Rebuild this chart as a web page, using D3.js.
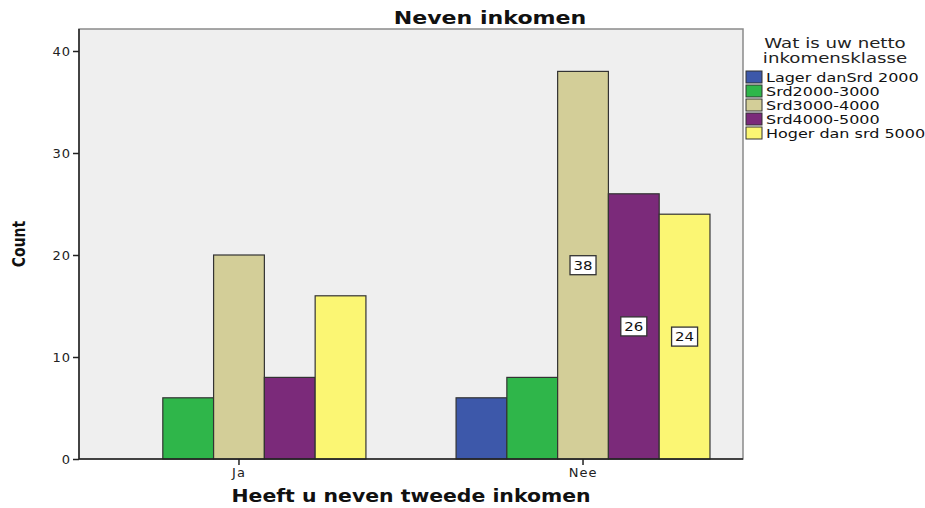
<!DOCTYPE html>
<html>
<head>
<meta charset="utf-8">
<script src="https://cdn.jsdelivr.net/npm/d3@7"></script>
<style>
  body { margin: 0; background: #fff; }
  text { font-family: "DejaVu Sans", Arial, sans-serif; }
</style>
</head>
<body>
<div id="screen"></div>
<script>
var width = 925;
var height = 508;

var categories = ['Ja', 'Nee'];
var seriesNames = ['Lager danSrd 2000', 'Srd2000-3000', 'Srd3000-4000', 'Srd4000-5000', 'Hoger dan srd 5000'];
var seriesColors = ['#3D58AA', '#2FB64A', '#D3CE98', '#7B2A7A', '#FBF673'];
var valuesJa = [0, 6, 20, 8, 16];
var valuesNee = [6, 8, 38, 26, 24];
var yTicks = [0, 10, 20, 30, 40];
// which bars get a value label (SPSS only labelled a few)
var labelled = [[false, false, false, false, false], [false, false, true, true, true]];

var plot = {left: 79, top: 29, right: 743, bottom: 459};

var svg = d3.select("#screen").append("svg")
  .attr("width", width).attr("height", height);

// the original picture is stretched sideways, so text gets a x-scale
var stretchText = function(g, x, y, sx, txt){
  return g.append("text")
    .attr("transform", "translate(" + x + "," + y + ") scale(" + sx + ",1)")
    .text(txt);
};

var rows = [];
[valuesJa, valuesNee].forEach(function(vals, ci){
  vals.forEach(function(v, si){
    rows.push({cat: categories[ci], series: si, value: v, label: labelled[ci][si]});
  });
});

var x0 = d3.scaleBand().domain(categories)
  .range([plot.left, plot.right])
  .paddingInner(0.262).paddingOuter(0.096);
var x1 = d3.scaleBand().domain(d3.range(seriesNames.length))
  .range([0, x0.bandwidth()]);
var y = d3.scaleLinear().domain([0, 40]).range([plot.bottom, 51]);

// plot background
svg.append("rect")
  .attr("x", plot.left).attr("y", plot.top)
  .attr("width", plot.right - plot.left).attr("height", plot.bottom - plot.top)
  .attr("fill", "#EFEFEF")
  .attr("stroke", "#8a8a8a").attr("stroke-width", 1.5);

// bars
svg.selectAll("rect.bar").data(rows.filter(function(d){ return d.value > 0; }))
  .enter().append("rect")
  .attr("class", "bar")
  .attr("x", function(d){ return x0(d.cat) + x1(d.series); })
  .attr("y", function(d){ return y(d.value); })
  .attr("width", x1.bandwidth())
  .attr("height", function(d){ return y(0) - y(d.value); })
  .attr("fill", function(d){ return seriesColors[d.series]; })
  .attr("stroke", "#333")
  .attr("stroke-width", 1.2);

// value labels
var lab = svg.selectAll("g.lab").data(rows.filter(function(d){ return d.label; }))
  .enter().append("g").attr("class", "lab")
  .attr("transform", function(d){
    return "translate(" + (x0(d.cat) + x1(d.series) + x1.bandwidth() / 2) + "," + y(d.value / 2) + ")";
  });
lab.append("rect")
  .attr("x", -13).attr("y", -9.5).attr("width", 26).attr("height", 19)
  .attr("fill", "#fff").attr("stroke", "#333").attr("stroke-width", 1.3);
lab.append("text")
  .attr("text-anchor", "middle").attr("dy", "0.36em")
  .attr("transform", "scale(1.15,1)")
  .attr("font-size", 13).attr("fill", "#111")
  .text(function(d){ return d.value; });

// axes
var yAxis = d3.axisLeft(y).tickValues(yTicks).tickSize(6).tickPadding(2);
var gy = svg.append("g").attr("transform", "translate(" + plot.left + ",0)").call(yAxis);
gy.select(".domain").attr("stroke", "#222").attr("stroke-width", 1.5)
  .attr("d", "M0," + plot.top + "V" + plot.bottom);
gy.selectAll(".tick line").attr("stroke", "#222").attr("stroke-width", 1.5);
gy.selectAll("text").attr("font-size", 13).attr("fill", "#222")
  .attr("letter-spacing", 1)
  .style("font-family", "DejaVu Sans");

var xAxis = d3.axisBottom(x0).tickSize(6).tickPadding(3);
var gx = svg.append("g").attr("transform", "translate(0," + plot.bottom + ")").call(xAxis);
gx.select(".domain").attr("stroke", "#222").attr("stroke-width", 1.5)
  .attr("d", "M" + plot.left + ",0H" + plot.right);
gx.selectAll(".tick line").attr("stroke", "#222").attr("stroke-width", 1.5);
gx.selectAll("text").attr("font-size", 13).attr("fill", "#222")
  .attr("letter-spacing", 1)
  .style("font-family", "DejaVu Sans");

// titles
stretchText(svg, 490, 24, 1.3, "Neven inkomen")
  .attr("text-anchor", "middle")
  .attr("font-size", 17).attr("font-weight", "bold").attr("fill", "#111");

stretchText(svg, 411, 502, 1.2, "Heeft u neven tweede inkomen")
  .attr("text-anchor", "middle")
  .attr("font-size", 17).attr("font-weight", "bold").attr("fill", "#111");

svg.append("text")
  .attr("transform", "translate(25,244) rotate(-90) scale(1,1.2)")
  .attr("text-anchor", "middle")
  .attr("font-size", 14).attr("font-weight", "bold").attr("fill", "#111")
  .text("Count");

// legend
var legend = svg.append("g");
stretchText(legend, 835, 48, 1.3, "Wat is uw netto")
  .attr("text-anchor", "middle").attr("font-size", 14).attr("fill", "#222");
stretchText(legend, 835, 63, 1.3, "inkomensklasse")
  .attr("text-anchor", "middle").attr("font-size", 14).attr("fill", "#222");

var items = legend.selectAll("g.item").data(seriesNames)
  .enter().append("g").attr("class", "item")
  .attr("transform", function(d, i){ return "translate(746," + (71 + i * 14) + ")"; });
items.append("rect")
  .attr("width", 16).attr("height", 12)
  .attr("fill", function(d, i){ return seriesColors[i]; })
  .attr("stroke", "#333").attr("stroke-width", 1);
items.append("text")
  .attr("transform", "translate(20,11) scale(1.23,1)")
  .attr("font-size", 13).attr("fill", "#111")
  .text(function(d){ return d; });
</script>
</body>
</html>
